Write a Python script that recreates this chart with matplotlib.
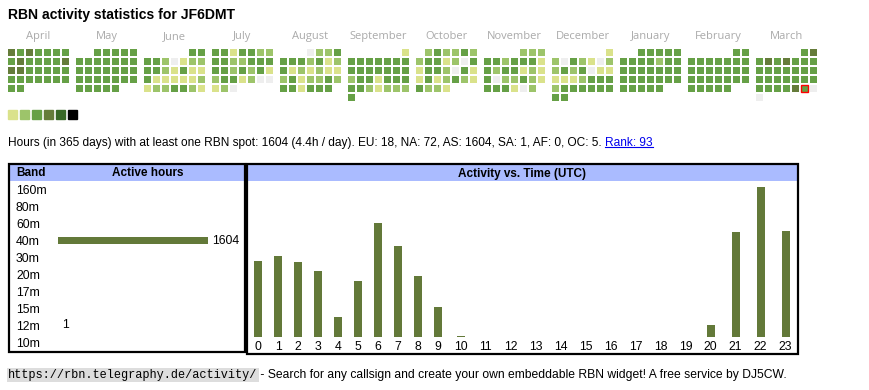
import calendar
import datetime as dt

import matplotlib
matplotlib.use("Agg")
import matplotlib.pyplot as plt
from matplotlib.patches import Rectangle

plt.rcParams["font.family"] = ["Liberation Sans", "DejaVu Sans"]

# ---- data ----
callsign = "JF6DMT"
start_year, start_month = 2024, 4
month_names = ["April", "May", "June", "July", "August", "September",
               "October", "November", "December", "January", "February", "March"]
# activity level per day (0 = none ... 6 = max), weeks separated by spaces
april = "4343333 3433334 4433333 3333333 33"
may = "33333 3333333 3333333 3333333 33333"
june = "33 3320122 3321311 3111112 1223321"
july = "3313322 3322333 3323231 2331200 120"
august = "0223 3332312 3121211 2312232 331333"
september = "1 3333333 3333333 2331333 3321222 3"
october = "232232 2331203 1332031 1312321 3221"
november = "222 3323331 3233121 3022321 333102"
december = "1 2032102 2323011 1112333 2333333 33"
january = "33333 3333233 3333333 3333333 33333"
february = "33 3333333 3333333 3333333 33333"
march = "34 3434333 3333333 3333333 3333430 0"
month_levels = [april, may, june, july, august, september,
                october, november, december, january, february, march]
today = dt.date(2025, 3, 29)
level_colors = ["#eeeeee", "#dae28b", "#9dc46a", "#66a046", "#657c3a", "#386826", "#000000"]

bands = ["160m", "80m", "60m", "40m", "30m", "20m", "17m", "15m", "12m", "10m"]
band_hours = [0, 0, 0, 1604, 0, 0, 0, 0, 1, 0]

utc_hours = list(range(24))
hour_activity = [117, 124, 115, 101, 31, 86, 175, 140, 94, 46, 2, 0,
                 0, 0, 0, 0, 0, 0, 0, 0, 18, 161, 231, 163]

total_hours = 1604
per_day = 4.4
continents = ["EU", "NA", "AS", "SA", "AF", "OC"]
continent_hours = [18, 72, 1604, 1, 0, 5]
rank = 93

bar_color = "#637939"
header_color = "#aabbff"

W, H = 870, 390
fig = plt.figure(figsize=(W / 100, H / 100), dpi=100)


def px_axes(x0, y0, x1, y1):
    ax = fig.add_axes([x0 / W, 1 - y1 / H, (x1 - x0) / W, (y1 - y0) / H])
    ax.set_facecolor("none")
    return ax


ov = px_axes(0, 0, W, H)
ov.set_xlim(0, W)
ov.set_ylim(H, 0)
ov.axis("off")

ov.text(8, 15, f"RBN activity statistics for {callsign}", fontsize=10.1,
        fontweight="bold", va="center")

# ---- calendar ----
block = 68 / 9
cell = 7 / 9
cal = px_axes(8, 49, 8 + 12 * 68, 49 + 54)
cal.set_xlim(0, 12 * block)
cal.set_ylim(6, 0)
cal.axis("off")
for m, (name, levels) in enumerate(zip(month_names, month_levels)):
    year = start_year + (start_month - 1 + m) // 12
    month = (start_month - 1 + m) % 12 + 1
    first = calendar.weekday(year, month, 1)
    for d, lv in enumerate(levels.replace(" ", "")):
        row, col = divmod(first + d, 7)
        is_today = dt.date(year, month, d + 1) == today
        cal.add_patch(Rectangle((m * block + col, row), cell, cell,
                                facecolor=level_colors[int(lv)],
                                edgecolor="red" if is_today else "none", linewidth=1))
    cal.text(m * block + (7 - 2 / 9) / 2, -1.4, name, ha="center", va="center",
             color="#aaaaaa", fontsize=8, family="Open Sans")

for i, c in enumerate(level_colors[1:]):
    ov.add_patch(Rectangle((8 + 12 * i, 110), 9, 9, color=c))

# ---- info line ----
info = (f"Hours (in 365 days) with at least one RBN spot: {total_hours} ({per_day}h / day). "
        + ", ".join(f"{c}: {v}" for c, v in zip(continents, continent_hours)) + ". ")
t = ov.text(8, 146, info, fontsize=8.6, va="baseline")
link = ov.annotate(f"Rank: {rank}", xy=(1, 146), xycoords=(t, "data"),
                   va="baseline", color="#0000ee", fontsize=8.6)

# ---- boxes ----
ov.add_patch(Rectangle((10, 165), 234, 16, facecolor=header_color, edgecolor="none"))
ov.add_patch(Rectangle((248, 165), 549, 16, facecolor=header_color, edgecolor="none"))
ov.add_patch(Rectangle((9, 164), 236, 188, fill=False, lw=1.6, ec="black"))
ov.add_patch(Rectangle((247, 164), 551, 190, fill=False, lw=1.6, ec="black"))
ov.text(16, 173.5, "Band", fontsize=8.5, fontweight="bold", va="center")
ov.text(148, 173.5, "Active hours", fontsize=8.5, fontweight="bold", va="center", ha="center")
ov.text(522, 173.5, "Activity vs. Time (UTC)", fontsize=8.5, fontweight="bold",
        va="center", ha="center")

# ---- band chart ----
bx = px_axes(58, 181, 208, 351)
bx.barh(range(len(bands)), band_hours, height=7 / 17, color=bar_color)
bx.set_xlim(0, max(band_hours))
bx.set_ylim(len(bands) - 0.5, -0.5)
bx.set_yticks(range(len(bands)), bands)
for lbl in bx.get_yticklabels():
    lbl.set_ha("left")
bx.tick_params(axis="y", length=0, pad=42 * 0.72, labelsize=8.8)
bx.set_xticks([])
for s in bx.spines.values():
    s.set_visible(False)
for i, v in enumerate(band_hours):
    if v:
        bx.annotate(str(v), (v, i), xytext=(3, 0), textcoords="offset points",
                    va="center", fontsize=8.8)

# ---- hour chart ----
widths = [20 if h < 10 else 25 for h in utc_hours]
centers = [sum(widths[:i]) + w / 2 for i, w in enumerate(widths)]
hx = px_axes(248, 182, 798, 337)
hx.bar(centers, hour_activity, width=8, color=bar_color)
hx.set_xlim(0, sum(widths))
hx.set_ylim(0, max(hour_activity) * 155 / 150)
hx.set_xticks(centers, [str(h) for h in utc_hours])
hx.tick_params(axis="x", length=0, pad=3.2, labelsize=8.8)
hx.set_yticks([])
for s in hx.spines.values():
    s.set_visible(False)

# ---- footer ----
url = ov.text(8, 378, "https://rbn.telegraphy.de/activity/", family="Liberation Mono",
              fontsize=8.6, va="baseline",
              bbox=dict(facecolor="#dddddd", edgecolor="none", pad=1))
ov.annotate(" - Search for any callsign and create your own embeddable RBN widget! "
            "A free service by DJ5CW.", xy=(1, 378), xycoords=(url, "data"),
            va="baseline", fontsize=8.7)

fig.canvas.draw()
bb = link.get_window_extent()
inv = ov.transData.inverted()
(lx0, ly0), (lx1, ly1) = inv.transform([[bb.x0, bb.y0], [bb.x1, bb.y1]])
ov.plot([lx0, lx1], [ly0 - 2, ly0 - 2], color="#0000ee", lw=0.8)

fig.savefig("out.png", dpi=100)
